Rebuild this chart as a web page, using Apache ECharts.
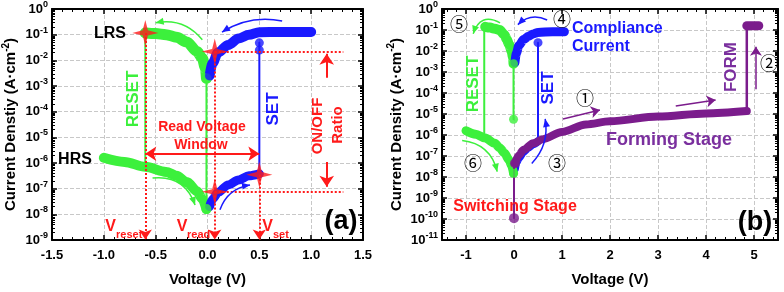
<!DOCTYPE html>
<html>
<head>
<meta charset="utf-8">
<script src="https://cdn.jsdelivr.net/npm/echarts@6/dist/echarts.min.js"></script>
<style>
  html, body { margin: 0; padding: 0; background: #fff; }
  #chart { width: 784px; height: 292px; }
</style>
</head>
<body>
<div id="chart"></div>
<script>
// ---------- panel (a): switching I-V ----------
const voltLrsResetA = [-0.6, -0.5, -0.4, -0.3, -0.2, -0.1, -0.05, -0.02, -0.01];
const curLrsResetA  = [0.117, 0.11, 0.1, 0.08, 0.052, 0.022, 0.012, 0.005, 0.002];
const voltHrsResetA = [-1.0, -0.8, -0.6, -0.4, -0.3, -0.2, -0.1, -0.05, -0.01];
const curHrsResetA  = [1.6e-6, 1.1e-6, 7.1e-7, 4.5e-7, 3.2e-7, 1.8e-7, 7.9e-8, 4e-8, 1.6e-8];
const voltLrsSetA   = [0.02, 0.05, 0.1, 0.2, 0.3, 0.4, 0.5, 0.7, 1.0];
const curLrsSetA    = [0.0025, 0.0079, 0.02, 0.04, 0.071, 0.1, 0.125, 0.128, 0.128];
const voltHrsSetA   = [0.02, 0.05, 0.1, 0.2, 0.3, 0.4, 0.5];
const curHrsSetA    = [2e-8, 4e-8, 7.1e-8, 1.4e-7, 2.2e-7, 3.2e-7, 3.8e-7];
// jumps and end points
const voltResetJumpA = [-0.6, -0.6];   const curResetJumpA = [0.117, 7.1e-7];
const voltZeroJumpA  = [-0.01, -0.01]; const curZeroJumpA  = [0.002, 1.6e-8];
const voltSetJumpA   = [0.5, 0.5];     const curSetJumpA   = [3.8e-7, 0.048];
const voltGreenDotA  = [-0.01, -0.01]; const curGreenDotA  = [0.002, 1.6e-8];
const voltBlueDotA   = [0.5, 0.5, 0.02]; const curBlueDotA = [0.048, 0.025, 0.0025];
// red stars: V_reset on LRS, V_read on LRS / HRS, V_set on HRS
const voltStarA = [-0.6, 0.07, 0.07, 0.5];
const curStarA  = [0.117, 0.022, 7.6e-8, 3.5e-7];

// ---------- panel (b): forming + switching ----------
const voltForm = [0.02, 0.1, 0.2, 0.4, 0.6, 1.0, 1.5, 2.0, 3.0, 4.0, 4.85];
const curForm  = [4.5e-8, 1.1e-7, 2e-7, 4e-7, 6.3e-7, 1.4e-6, 3.2e-6, 4.5e-6, 7.6e-6, 1.07e-5, 1.38e-5];
const voltFormStart = [0, 0];       const curFormStart = [1.1e-10, 4.5e-8];
const voltFormJump  = [4.85, 4.85]; const curFormJump  = [1.38e-5, 0.16];
const voltCompliance = [4.85, 5.1]; const curCompliance = [0.16, 0.16];
const voltLrsResetB = [-0.6, -0.5, -0.4, -0.3, -0.2, -0.15, -0.1, -0.05, -0.02, -0.01];
const curLrsResetB  = [0.141, 0.13, 0.115, 0.1, 0.06, 0.035, 0.02, 0.01, 0.005, 0.0025];
const voltHrsResetB = [-1.0, -0.8, -0.6, -0.4, -0.3, -0.2, -0.1, -0.05, -0.01];
const curHrsResetB  = [1.6e-6, 1.1e-6, 7.1e-7, 4e-7, 2.5e-7, 1.4e-7, 6.3e-8, 3.5e-8, 1.5e-8];
const voltLrsSetB   = [0.02, 0.05, 0.1, 0.2, 0.3, 0.4, 0.5, 0.8, 1.05];
const curLrsSetB    = [0.0028, 0.0079, 0.018, 0.035, 0.05, 0.065, 0.076, 0.083, 0.083];
const voltHrsSetB   = [0.02, 0.05, 0.1, 0.2, 0.3, 0.4, 0.5];
const curHrsSetB    = [2.5e-8, 5e-8, 8e-8, 1.6e-7, 2.5e-7, 3.6e-7, 5e-7];
const voltResetJumpB = [-0.62, -0.62]; const curResetJumpB = [0.141, 6.3e-7];
const voltZeroJumpB  = [-0.01, -0.01]; const curZeroJumpB  = [0.0025, 5.6e-6];
const voltSetJumpB   = [0.5, 0.5];     const curSetJumpB   = [5e-7, 0.025];
const voltGreenDotB  = [-0.01, -0.01, -0.01]; const curGreenDotB = [0.0025, 5.6e-6, 1.5e-8];
const voltBlueDotB   = [0.5];          const curBlueDotB   = [0.025];
const voltPurpleDotB = [0, 0.02];      const curPurpleDotB = [1.1e-10, 4.5e-8];

const GREEN = '#3cf03c', BLUE = '#1a1aff', PURPLE = '#7b1c8c', RED = '#ff1a1a';
const FONT = 'Arial, "Liberation Sans", sans-serif';

const pairs = (vs, cs) => vs.map((v, i) => [v, cs[i]]);

// log minor tick positions 2..9 x 10^e
function minorLog(lo, hi) {
  const out = [];
  for (let e = lo; e < hi; e++) for (let k = 2; k <= 9; k++) out.push(k * Math.pow(10, e));
  return out;
}

const expRich = {
  b: { fontSize: 13, fontWeight: 'bold', color: '#000', fontFamily: FONT, lineHeight: 18 },
  s: { fontSize: 9, fontWeight: 'bold', color: '#000', fontFamily: FONT, lineHeight: 8, verticalAlign: 'top' }
};

function yAxes(grid, lo, hi, name, gap) {
  const base = { gridIndex: grid, type: 'log', logBase: 10, min: Math.pow(10, lo), max: Math.pow(10, hi), interval: 1 };
  const line = { show: true, onZero: false, lineStyle: { color: '#000', width: 2 } };
  const major = { inside: true, length: 5, lineStyle: { color: '#000', width: 1.5 } };
  const minor = { inside: true, length: 3, customValues: minorLog(lo, hi), lineStyle: { color: '#000', width: 1 } };
  return [
    Object.assign({}, base, {
      position: 'left',
      name, nameLocation: 'middle', nameGap: gap, nameRotate: 90,
      nameTextStyle: { fontSize: 15, fontWeight: 'bold', color: '#000', fontFamily: FONT, lineHeight: 20,
        rich: { s: { fontSize: 10, fontWeight: 'bold', color: '#000', lineHeight: 8, verticalAlign: 'top' } } },
      axisLine: line, axisTick: major,
      axisLabel: { margin: 4, formatter: v => '{b|10}{s|' + Math.round(Math.log10(v)) + '}', rich: expRich },
      splitLine: { show: true, lineStyle: { type: 'dashed', color: '#c8c8c8', width: 1 } }
    }),
    Object.assign({}, base, { position: 'left', axisLine: { show: false, onZero: false }, axisTick: minor,
      axisLabel: { show: false }, splitLine: { show: false } }),
    Object.assign({}, base, { position: 'right', axisLine: line, axisTick: major,
      axisLabel: { show: false }, splitLine: { show: false } }),
    Object.assign({}, base, { position: 'right', axisLine: { show: false, onZero: false }, axisTick: minor,
      axisLabel: { show: false }, splitLine: { show: false } })
  ];
}

function xAxes(grid, min, max, extra, fmt) {
  const base = Object.assign({ gridIndex: grid, type: 'value', min, max }, extra);
  const line = { onZero: false, lineStyle: { color: '#000', width: 2 } };
  const tick = { inside: true, length: 5, lineStyle: { color: '#000', width: 1.5 } };
  const minorTick = { show: true, splitNumber: 5, length: 3, lineStyle: { color: '#000', width: 1 } };
  return [
    Object.assign({}, base, {
      position: 'bottom', name: 'Voltage (V)', nameLocation: 'middle', nameGap: 32,
      nameTextStyle: { fontSize: 15, fontWeight: 'bold', color: '#000', fontFamily: FONT },
      axisLine: line, axisTick: tick, minorTick,
      axisLabel: { margin: 9, fontSize: 13, fontWeight: 'bold', color: '#000', fontFamily: FONT, formatter: fmt },
      splitLine: { show: true, lineStyle: { type: 'dashed', color: '#c8c8c8', width: 1 } }
    }),
    Object.assign({}, base, { position: 'top', axisLine: line, axisTick: tick, minorTick,
      axisLabel: { show: false }, splitLine: { show: false } })
  ];
}

function curve(xi, yi, vs, cs, color, width, z) {
  return {
    type: 'line', xAxisIndex: xi, yAxisIndex: yi, data: pairs(vs, cs), symbol: 'none',
    smooth: 0.3, smoothMonotone: 'x', silent: true, z: z || 2,
    lineStyle: { color, width, cap: 'round', join: 'round' }
  };
}
function dots(xi, yi, vs, cs, color, size) {
  return { type: 'scatter', xAxisIndex: xi, yAxisIndex: yi, data: pairs(vs, cs), symbolSize: size,
    silent: true, z: 4, itemStyle: { color } };
}
function arrow(from, to, color, o) {
  o = o || {};
  const ls = { color, width: o.width || 1.5, type: o.type || 'solid' };
  return [
    { coord: from, symbol: o.both ? 'arrow' : 'none', symbolSize: o.size || 9, lineStyle: ls },
    { coord: to, symbol: 'arrow', symbolSize: o.size || 9, lineStyle: ls }
  ];
}
function markLines(items) {
  return { silent: true, animation: false, label: { show: false }, emphasis: { disabled: true }, data: items };
}

// straight annotation arrows, (a)
const guideA = [
  arrow([-0.6, 0.117], [-0.6, 1.05e-9], RED, { type: 'dotted', width: 2, size: 10 }),
  arrow([0.07, 0.022], [0.07, 1.05e-9], RED, { type: 'dotted', width: 2, size: 10 }),
  arrow([0.5, 3.5e-7], [0.5, 1.05e-9], RED, { type: 'dotted', width: 2, size: 10 }),
  [{ coord: [0.07, 0.022], symbol: 'none', lineStyle: { color: RED, width: 2, type: 'dotted' } },
   { coord: [1.31, 0.022], symbol: 'none', lineStyle: { color: RED, width: 2, type: 'dotted' } }],
  [{ coord: [0.07, 7.6e-8], symbol: 'none', lineStyle: { color: RED, width: 2, type: 'dotted' } },
   { coord: [1.31, 7.6e-8], symbol: 'none', lineStyle: { color: RED, width: 2, type: 'dotted' } }],
  arrow([-0.6, 2.3e-6], [0.5, 2.3e-6], RED, { width: 2, both: true, size: 11 }),
  arrow([1.15, 2.1e-3], [1.15, 0.018], RED, { width: 2, size: 11 }),
  arrow([1.15, 1.1e-6], [1.15, 1.2e-7], RED, { width: 2, size: 11 })
];
// straight annotation arrows, (b)
const guideB = [
  arrow([1.02, 5.8e-6], [1.79, 1.55e-5], PURPLE),
  arrow([3.37, 2.4e-5], [4.2, 4.6e-5], PURPLE),
  arrow([5.04, 1.5e-4], [5.04, 0.016], PURPLE)
];
// curved sweep arrows: [grid, from, to, colour, bend]
const sweepArrows = [
  [0, [-0.05, 0.063], [-0.5, 0.29], GREEN, -0.3],
  [0, [-0.53, 2.6e-7], [-0.12, 2.3e-8], GREEN, 0.4],
  [0, [0.72, 0.34], [0.14, 0.126], BLUE, -0.2],
  [0, [0.12, 1.5e-8], [0.41, 1.4e-7], BLUE, 0.3],
  [1, [-0.29, 0.22], [-0.85, 0.066], GREEN, -0.6],
  [1, [-1.08, 5.4e-7], [-0.35, 1.8e-8], GREEN, 0.35],
  [1, [0.69, 0.3], [0.08, 0.18], BLUE, -0.35],
  [1, [0.37, 4.4e-8], [0.65, 5.8e-6], BLUE, -0.25]
];

const starPath = 'path://M0,-12 L2.4,-2.4 L12,0 L2.4,2.4 L0,12 L-2.4,2.4 L-12,0 L-2.4,-2.4 Z';

function txt(x, y, text, color, size, o) {
  o = o || {};
  return {
    type: 'text', x, y, rotation: o.rot ? Math.PI / 2 : 0, silent: true, z: 100,
    style: {
      text, fill: color, align: o.align || 'center', verticalAlign: 'middle',
      font: (o.weight || 'bold') + ' ' + size + 'px ' + (o.family || FONT)
    }
  };
}
const CIRC = '"Noto Sans CJK SC", "DejaVu Sans", sans-serif';

const labels = [
  // (a)
  txt(110, 34, 'LRS', '#000', 16),
  txt(75, 160, 'HRS', '#000', 16),
  txt(133, 99, 'RESET', GREEN, 17, { rot: true }),
  txt(273, 109, 'SET', BLUE, 17, { rot: true }),
  txt(202, 127, 'Read Voltage', RED, 14),
  txt(201, 145, 'Window', RED, 14),
  txt(318, 126, 'ON/OFF', RED, 15, { rot: true }),
  txt(338, 125, 'Ratio', RED, 15, { rot: true }),
  txt(341, 222, '(a)', '#000', 27),
  txt(110.5, 227, 'V', RED, 16),
  txt(116, 235, 'reset', RED, 11, { align: 'left' }),
  txt(182, 227, 'V', RED, 16),
  txt(187, 235, 'read', RED, 11, { align: 'left' }),
  txt(267.5, 227, 'V', RED, 16),
  txt(273, 235, 'set', RED, 11, { align: 'left' }),
  // (b)
  txt(459, 24, '⑤', '#000', 18, { weight: 'normal', family: CIRC }),
  txt(562, 19, '④', '#000', 18, { weight: 'normal', family: CIRC }),
  txt(585, 98, '①', '#000', 18, { weight: 'normal', family: CIRC }),
  txt(769, 63, '②', '#000', 18, { weight: 'normal', family: CIRC }),
  txt(557, 163, '③', '#000', 18, { weight: 'normal', family: CIRC }),
  txt(473, 163, '⑥', '#000', 18, { weight: 'normal', family: CIRC }),
  txt(572, 29, 'Compliance', BLUE, 16, { align: 'left' }),
  txt(572, 47, 'Current', BLUE, 16, { align: 'left' }),
  txt(473, 84, 'RESET', GREEN, 17, { rot: true }),
  txt(548, 88, 'SET', BLUE, 17, { rot: true }),
  txt(731, 67, 'FORM', '#7a2f9e', 17, { rot: true }),
  txt(669, 140, 'Forming Stage', '#7a2f9e', 18),
  txt(515, 207, 'Switching Stage', RED, 16),
  txt(755, 223, '(b)', '#000', 27)
];

const chart = echarts.init(document.getElementById('chart'), null, { renderer: 'canvas' });
chart.setOption({
  animation: false,
  backgroundColor: '#fff',
  grid: [
    { left: 52, top: 9, width: 311, height: 231 },
    { left: 442, top: 9, width: 336, height: 233 }
  ],
  xAxis: [
    ...xAxes(0, -1.5, 1.5, { interval: 0.5 }, v => v.toFixed(1)),
    ...xAxes(1, -1.5, 5.5, { splitNumber: 7 }, v => Math.abs(v - Math.round(v)) < 1e-6 ? String(Math.round(v)) : '')
  ],
  yAxis: [
    ...yAxes(0, -9, 0, 'Current Denstiy (A·cm{s|-2})', 31),
    ...yAxes(1, -11, 0, 'Current Density (A·cm{s|-2})', 35)
  ],
  series: [
    // (a)
    curve(0, 0, voltResetJumpA, curResetJumpA, GREEN, 2, 1),
    curve(0, 0, voltZeroJumpA, curZeroJumpA, GREEN, 2, 1),
    curve(0, 0, voltSetJumpA, curSetJumpA, BLUE, 2, 1),
    curve(0, 0, voltLrsResetA, curLrsResetA, GREEN, 11),
    curve(0, 0, voltHrsResetA, curHrsResetA, GREEN, 10),
    curve(0, 0, voltLrsSetA, curLrsSetA, BLUE, 10),
    curve(0, 0, voltHrsSetA, curHrsSetA, BLUE, 9),
    dots(0, 0, voltGreenDotA, curGreenDotA, GREEN, 10),
    dots(0, 0, voltBlueDotA, curBlueDotA, BLUE, 9),
    {
      type: 'scatter', xAxisIndex: 0, yAxisIndex: 0, data: pairs(voltStarA, curStarA),
      symbol: starPath, symbolSize: 26, silent: true, z: 6, itemStyle: { color: RED },
      markLine: markLines(guideA)
    },
    // (b)
    curve(2, 4, voltResetJumpB, curResetJumpB, GREEN, 2, 1),
    curve(2, 4, voltZeroJumpB, curZeroJumpB, GREEN, 2, 1),
    curve(2, 4, voltSetJumpB, curSetJumpB, BLUE, 2, 1),
    curve(2, 4, voltHrsSetB, curHrsSetB, BLUE, 8),
    curve(2, 4, voltLrsResetB, curLrsResetB, GREEN, 10),
    curve(2, 4, voltHrsResetB, curHrsResetB, GREEN, 9),
    curve(2, 4, voltLrsSetB, curLrsSetB, BLUE, 9),
    curve(2, 4, voltFormStart, curFormStart, PURPLE, 2, 3),
    curve(2, 4, voltForm, curForm, PURPLE, 8, 3),
    curve(2, 4, voltFormJump, curFormJump, PURPLE, 2.5, 3),
    curve(2, 4, voltCompliance, curCompliance, PURPLE, 9, 3),
    dots(2, 4, voltGreenDotB, curGreenDotB, GREEN, 9),
    dots(2, 4, voltBlueDotB, curBlueDotB, BLUE, 9),
    Object.assign(dots(2, 4, voltPurpleDotB, curPurpleDotB, PURPLE, 10), { markLine: markLines(guideB) })
  ]
});

// curved arrows: map data points through the axes, then draw a quadratic curve + head
const sweepShapes = [];
sweepArrows.forEach(([g, from, to, color, bend]) => {
  const finder = g === 0 ? { xAxisIndex: 0, yAxisIndex: 0 } : { xAxisIndex: 2, yAxisIndex: 4 };
  const p1 = chart.convertToPixel(finder, from);
  const p2 = chart.convertToPixel(finder, to);
  const cx = (p1[0] + p2[0]) / 2 - (p1[1] - p2[1]) * bend;
  const cy = (p1[1] + p2[1]) / 2 - (p2[0] - p1[0]) * bend;
  sweepShapes.push({
    type: 'bezierCurve', silent: true, z: 50,
    shape: { x1: p1[0], y1: p1[1], x2: p2[0], y2: p2[1], cpx1: cx, cpy1: cy },
    style: { stroke: color, lineWidth: 1.5, fill: null }
  });
  const dx = p2[0] - cx, dy = p2[1] - cy, len = Math.hypot(dx, dy) || 1;
  const ux = dx / len, uy = dy / len, L = 8, W = 3.5;
  const bx = p2[0] - ux * L, by = p2[1] - uy * L;
  sweepShapes.push({
    type: 'polygon', silent: true, z: 51,
    shape: { points: [[p2[0], p2[1]], [bx - uy * W, by + ux * W], [bx + uy * W, by - ux * W]] },
    style: { fill: color }
  });
});

chart.setOption({ graphic: labels.concat(sweepShapes) });
</script>
</body>
</html>
